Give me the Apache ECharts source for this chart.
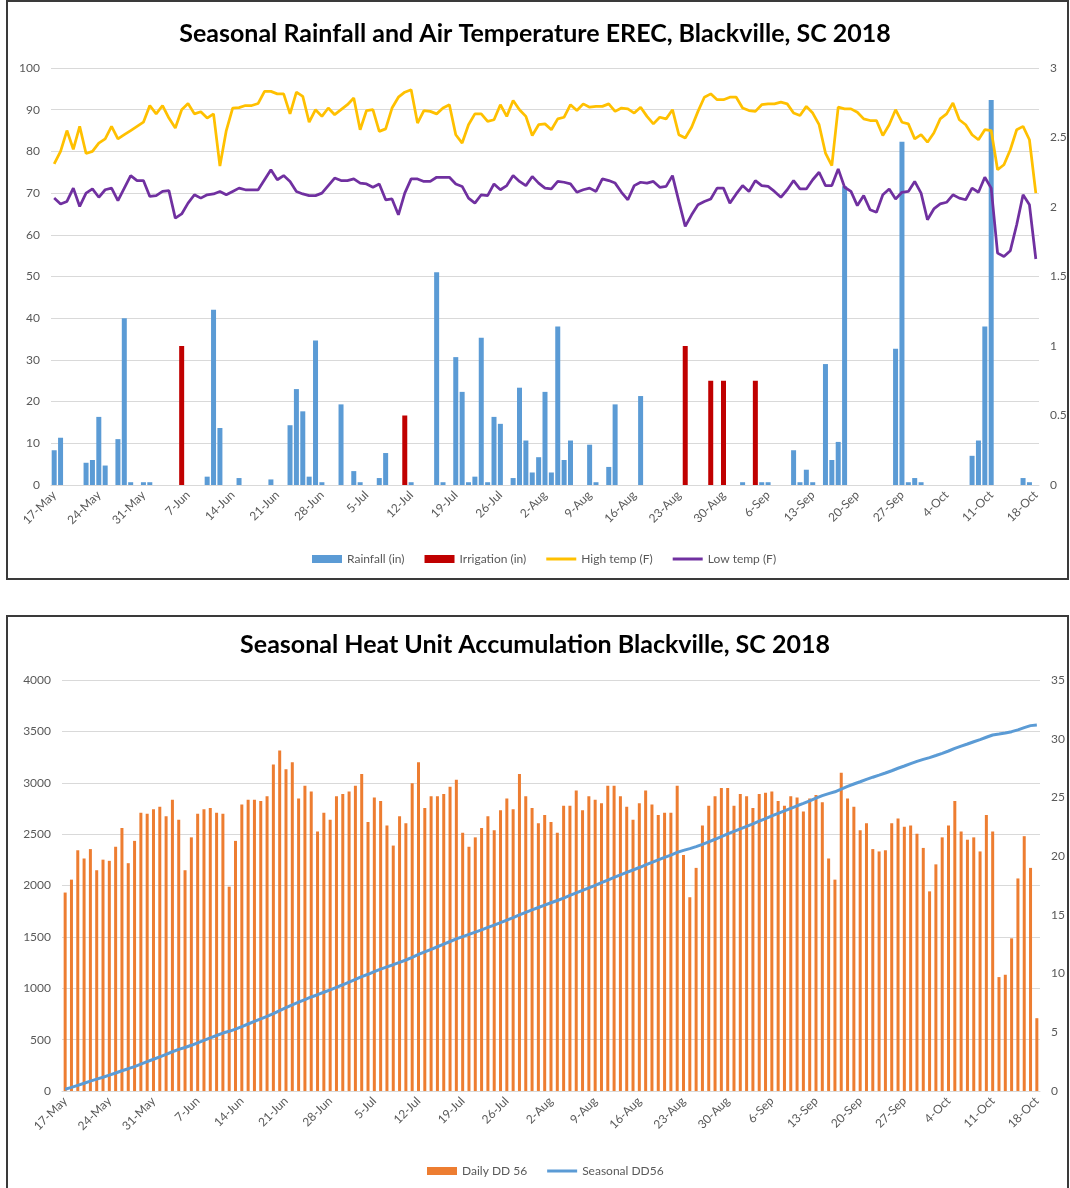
<!DOCTYPE html>
<html>
<head>
<meta charset="utf-8">
<script src="https://cdn.jsdelivr.net/npm/echarts@6/dist/echarts.min.js"></script>
<style>
    body { margin: 0; background: #fff; }
    #top { position: absolute; left: 0; top: 0; width: 1070px; height: 600px; }
    #bottom { position: absolute; left: 0; top: 600px; width: 1070px; height: 588px; }
    .frame { position: absolute; border: 2px solid #3a3a3a; box-sizing: border-box; pointer-events: none; }
</style>
</head>
<body>
<div id="top"></div>
<div id="bottom"></div>
<div class="frame" style="left:6px;top:0;width:1063px;height:580px"></div>
<div class="frame" style="left:6px;top:615px;width:1063px;height:600px"></div>
<script>
// month, first day, last day -> 17-May .. 18-Oct
const months = [['May', 17, 31], ['Jun', 1, 30], ['Jul', 1, 31], ['Aug', 1, 31], ['Sep', 1, 30], ['Oct', 1, 18]]
const days = []
for (let m of months) {
    for (let d = m[1]; d <= m[2]; d++) days.push(d + '-' + m[0])
}

// air temperature (F)
const highTemp = [
    77, 80, 85, 80.5, 86, 79.5, 80, 82, 83, 86,
    83, 84, 85, 86, 87, 91, 89, 91, 88, 85.6,
    90, 91.5, 89, 89.5, 88, 89, 76.5, 85, 90.4, 90.5,
    91, 91, 91.5, 94.4, 94.4, 93.8, 93.8, 89, 94.2, 93.2,
    87, 90, 88.4, 90.4, 88.8, 90, 91.2, 92.8, 85.2, 89.8,
    90, 84.8, 85.4, 90.4, 93, 94.2, 94.8, 86.8, 89.8, 89.6,
    89, 90.4, 91.2, 84, 82, 86.4, 89, 89, 87.2, 87.6,
    91.2, 88.4, 92.2, 90, 88.4, 83.8, 86.4, 86.6, 85.2, 87.8,
    88.2, 91.2, 89.8, 91.4, 90.6, 90.8, 90.8, 91.4, 89.6, 90.4,
    90.2, 89.2, 90.6, 88.4, 86.6, 88.2, 87.8, 90, 84, 83.2,
    85.8, 89.6, 93, 93.8, 92.4, 92.4, 93, 93, 90.4, 89.8,
    89.6, 91.2, 91.4, 91.4, 91.8, 91.4, 89.2, 88.6, 90.8, 89.2,
    86.4, 79.6, 76.6, 90.6, 90.2, 90.2, 89.4, 87.8, 87.4, 87.4,
    83.8, 86.4, 90, 87, 86.6, 83, 84, 82.2, 84.4, 87.8,
    89, 91.6, 87.6, 86.4, 84, 82.8, 85.2, 85, 75.6, 76.8,
    80.4, 85.2, 86, 82.8, 70
]
const lowTemp = [
    68.8, 67.4, 68, 71.2, 66.8, 70, 71, 69, 70.8, 71.2,
    68.2, 71.2, 74.2, 73, 73, 69.2, 69.4, 70.4, 70.6, 64,
    65, 67.6, 69.6, 68.8, 69.6, 69.8, 70.4, 69.6, 70.4, 71.2,
    70.8, 70.8, 70.8, 73.2, 75.6, 73.2, 74.2, 72.8, 70.4, 69.8,
    69.4, 69.4, 70, 71.8, 73.6, 73, 73, 73.4, 72.4, 72.2,
    71.4, 72.2, 68.4, 68.6, 64.8, 70, 73.4, 73.4, 72.8, 72.8,
    73.8, 73.8, 73.8, 72.2, 71.6, 68.8, 67.6, 69.6, 69.4, 72.2,
    70.8, 71.8, 74.2, 72.8, 71.8, 74, 72.4, 71.2, 71, 72.8,
    72.6, 72.2, 70.2, 70.8, 71.2, 70.4, 73.4, 73, 72.4, 70.2,
    68.4, 71.8, 72.6, 72.4, 72.8, 71.4, 71.6, 74.2, 68, 62,
    64.8, 67.2, 68, 68.6, 71.2, 71.2, 67.6, 69.8, 71.8, 70.4,
    73, 71.8, 71.6, 70.4, 69, 70.8, 73, 71, 71, 73.2,
    75, 71.8, 71.8, 75.8, 71.4, 70.4, 67, 69.4, 66, 65.4,
    69.6, 71, 68.6, 70.2, 70.4, 72.8, 70, 63.6, 66.2, 67.4,
    67.8, 69.6, 68.8, 68.4, 71.2, 70.2, 73.8, 71.2, 55.6, 54.8,
    56.2, 62.4, 69.6, 67.2, 54.2
]

// water (in)
const rainfall = [
    0.25, 0.34, 0, 0, 0, 0.16, 0.18, 0.49, 0.14, 0,
    0.33, 1.2, 0.02, 0, 0.02, 0.02, 0, 0, 0, 0,
    0, 0, 0, 0, 0.06, 1.26, 0.41, 0, 0, 0.05,
    0, 0, 0, 0, 0.04, 0, 0, 0.43, 0.69, 0.53,
    0.06, 1.04, 0.02, 0, 0, 0.58, 0, 0.1, 0.02, 0,
    0, 0.05, 0.23, 0, 0, 0, 0.02, 0, 0, 0,
    1.53, 0.02, 0, 0.92, 0.67, 0.02, 0.06, 1.06, 0.02, 0.49,
    0.44, 0, 0.05, 0.7, 0.32, 0.09, 0.2, 0.67, 0.09, 1.14,
    0.18, 0.32, 0, 0, 0.29, 0.02, 0, 0.13, 0.58, 0,
    0, 0, 0.64, 0, 0, 0, 0, 0, 0, 0,
    0, 0, 0, 0, 0, 0, 0, 0, 0.02, 0,
    0, 0.02, 0.02, 0, 0, 0, 0.25, 0.02, 0.11, 0.02,
    0, 0.87, 0.18, 0.31, 2.15, 0, 0, 0, 0, 0,
    0, 0, 0.98, 2.47, 0.02, 0.05, 0.02, 0, 0, 0,
    0, 0, 0, 0, 0.21, 0.32, 1.14, 2.77, 0, 0,
    0, 0, 0.05, 0.02, 0
]
const irrigation = [
    0, 0, 0, 0, 0, 0, 0, 0, 0, 0,
    0, 0, 0, 0, 0, 0, 0, 0, 0, 0,
    1.0, 0, 0, 0, 0, 0, 0, 0, 0, 0,
    0, 0, 0, 0, 0, 0, 0, 0, 0, 0,
    0, 0, 0, 0, 0, 0, 0, 0, 0, 0,
    0, 0, 0, 0, 0, 0.5, 0, 0, 0, 0,
    0, 0, 0, 0, 0, 0, 0, 0, 0, 0,
    0, 0, 0, 0, 0, 0, 0, 0, 0, 0,
    0, 0, 0, 0, 0, 0, 0, 0, 0, 0,
    0, 0, 0, 0, 0, 0, 0, 0, 0, 1.0,
    0, 0, 0, 0.75, 0, 0.75, 0, 0, 0, 0,
    0.75, 0, 0, 0, 0, 0, 0, 0, 0, 0,
    0, 0, 0, 0, 0, 0, 0, 0, 0, 0,
    0, 0, 0, 0, 0, 0, 0, 0, 0, 0,
    0, 0, 0, 0, 0, 0, 0, 0, 0, 0,
    0, 0, 0, 0, 0
]

// heat units
const dailyDD = [
    16.9, 18.0, 20.5, 19.8, 20.6, 18.8, 19.7, 19.6, 20.8, 22.4,
    19.4, 21.3, 23.7, 23.6, 24.0, 24.2, 23.4, 24.8, 23.1, 18.8,
    21.6, 23.6, 24.0, 24.1, 23.7, 23.6, 17.4, 21.3, 24.4, 24.8,
    24.8, 24.7, 25.1, 27.8, 29.0, 27.4, 28.0, 24.9, 26.0, 25.5,
    22.1, 23.7, 23.1, 25.1, 25.3, 25.5, 26.0, 27.0, 22.9, 25.0,
    24.7, 22.6, 20.9, 23.4, 22.8, 26.2, 28.0, 24.1, 25.1, 25.1,
    25.3, 25.9, 26.5, 22.0, 20.8, 21.6, 22.4, 23.4, 22.2, 23.9,
    24.9, 24.0, 27.0, 25.1, 24.1, 22.8, 23.5, 22.9, 22.0, 24.3,
    24.3, 25.6, 23.9, 25.1, 24.8, 24.5, 26.0, 26.0, 25.1, 24.2,
    23.1, 24.5, 25.6, 24.4, 23.5, 23.7, 23.7, 26.0, 20.1, 16.5,
    19.0, 22.6, 24.3, 25.1, 25.8, 25.8, 24.3, 25.3, 25.1, 24.1,
    25.3, 25.4, 25.5, 24.7, 24.3, 25.1, 25.0, 23.8, 24.9, 25.2,
    24.6, 19.8, 18.0, 27.1, 24.9, 24.2, 22.2, 22.8, 20.6, 20.4,
    20.5, 22.8, 23.2, 22.5, 22.6, 21.9, 20.7, 17.0, 19.3, 21.6,
    22.6, 24.7, 22.1, 21.4, 21.6, 20.4, 23.5, 22.1, 9.7, 9.9,
    13.0, 18.1, 21.7, 19.0, 6.2
]
const seasonalDD = [
    17, 35, 55, 75, 96, 115, 134, 154, 175, 197,
    217, 238, 262, 285, 309, 333, 357, 382, 405, 423,
    445, 469, 493, 517, 540, 564, 581, 603, 627, 652,
    677, 701, 727, 754, 783, 811, 839, 864, 890, 915,
    937, 961, 984, 1009, 1034, 1060, 1086, 1113, 1136, 1161,
    1186, 1208, 1229, 1252, 1275, 1301, 1329, 1354, 1379, 1404,
    1429, 1455, 1481, 1503, 1524, 1546, 1568, 1592, 1614, 1638,
    1663, 1687, 1714, 1739, 1763, 1786, 1809, 1832, 1854, 1878,
    1903, 1928, 1952, 1977, 2002, 2027, 2053, 2079, 2104, 2128,
    2151, 2175, 2201, 2225, 2249, 2273, 2296, 2322, 2342, 2359,
    2378, 2401, 2425, 2450, 2476, 2502, 2526, 2551, 2576, 2600,
    2626, 2651, 2677, 2701, 2726, 2751, 2776, 2799, 2824, 2850,
    2874, 2894, 2912, 2939, 2964, 2988, 3010, 3033, 3054, 3074,
    3095, 3117, 3141, 3163, 3186, 3208, 3228, 3245, 3265, 3286,
    3309, 3334, 3356, 3377, 3399, 3419, 3443, 3465, 3474, 3484,
    3497, 3515, 3537, 3556, 3562
]

const font = 'Lato, "Open Sans", sans-serif'
const labelGray = '#595959'
const gridGray = '#D9D9D9'
// plain line for legend entries of line series (no marker)
const lineIcon = 'path://M0,0 L30,0 L30,3 L0,3 Z'

const xAxisBase = {
    type: 'category',
    data: days,
    boundaryGap: true,
    axisLine: { lineStyle: { color: gridGray } },
    axisTick: { interval: 6, length: 5, lineStyle: { color: gridGray } },
    axisLabel: { interval: 6, rotate: 45, color: labelGray, fontSize: 12, margin: 8 }
}
const valueAxis = (min, max, interval, side, grid) => ({
    type: 'value',
    position: side,
    min: min,
    max: max,
    interval: interval,
    axisLine: { show: false },
    axisTick: { show: false },
    axisLabel: { color: labelGray, fontSize: 12, margin: 11, formatter: value => String(value) },
    splitLine: { show: grid, lineStyle: { color: gridGray } }
})

const topOption = {
    animation: false,
    textStyle: { fontFamily: font },
    title: {
        text: 'Seasonal Rainfall and Air Temperature EREC, Blackville, SC 2018',
        left: 'center',
        top: 16,
        textStyle: { fontFamily: font, fontSize: 25, fontWeight: 'bold', color: '#000' }
    },
    legend: {
        left: 307,
        top: 548,
        itemWidth: 30,
        itemHeight: 8,
        itemGap: 20,
        textStyle: { fontFamily: font, fontSize: 12, color: labelGray },
        data: [
            { name: 'Rainfall (in)', icon: 'rect' },
            { name: 'Irrigation (in)', icon: 'rect' },
            { name: 'High temp (F)', icon: lineIcon },
            { name: 'Low temp (F)', icon: lineIcon }
        ]
    },
    grid: { left: 51, right: 31, top: 68, height: 417 },
    xAxis: xAxisBase,
    yAxis: [valueAxis(0, 100, 10, 'left', true), valueAxis(0, 3, 0.5, 'right', false)],
    series: [
        { name: 'Rainfall (in)', type: 'bar', yAxisIndex: 1, data: rainfall, barWidth: 5, barGap: '-100%', itemStyle: { color: '#5B9BD5' } },
        { name: 'Irrigation (in)', type: 'bar', yAxisIndex: 1, data: irrigation, barWidth: 5, itemStyle: { color: '#C00000' } },
        { name: 'High temp (F)', type: 'line', yAxisIndex: 0, data: highTemp, symbol: 'none', lineStyle: { color: '#FFC000', width: 2.75 }, itemStyle: { color: '#FFC000' } },
        { name: 'Low temp (F)', type: 'line', yAxisIndex: 0, data: lowTemp, symbol: 'none', lineStyle: { color: '#7030A0', width: 2.75 }, itemStyle: { color: '#7030A0' } }
    ]
}

const bottomOption = {
    animation: false,
    textStyle: { fontFamily: font },
    title: {
        text: 'Seasonal Heat Unit Accumulation Blackville, SC 2018',
        left: 'center',
        top: 27,
        textStyle: { fontFamily: font, fontSize: 25, fontWeight: 'bold', color: '#000' }
    },
    legend: {
        left: 422,
        top: 560,
        itemWidth: 30,
        itemHeight: 8,
        itemGap: 20,
        textStyle: { fontFamily: font, fontSize: 12, color: labelGray },
        data: [{ name: 'Daily DD 56', icon: 'rect' }, { name: 'Seasonal DD56', icon: lineIcon }]
    },
    grid: { left: 62, right: 30, top: 80, height: 411 },
    xAxis: xAxisBase,
    yAxis: [valueAxis(0, 4000, 500, 'left', true), valueAxis(0, 35, 5, 'right', false)],
    series: [
        { name: 'Daily DD 56', type: 'bar', yAxisIndex: 1, data: dailyDD, barWidth: 3, itemStyle: { color: '#ED7D31' } },
        { name: 'Seasonal DD56', type: 'line', yAxisIndex: 0, data: seasonalDD, symbol: 'none', lineStyle: { color: '#5B9BD5', width: 3 }, itemStyle: { color: '#5B9BD5' } }
    ]
}

echarts.init(document.getElementById('top')).setOption(topOption)
echarts.init(document.getElementById('bottom')).setOption(bottomOption)
</script>
</body>
</html>
